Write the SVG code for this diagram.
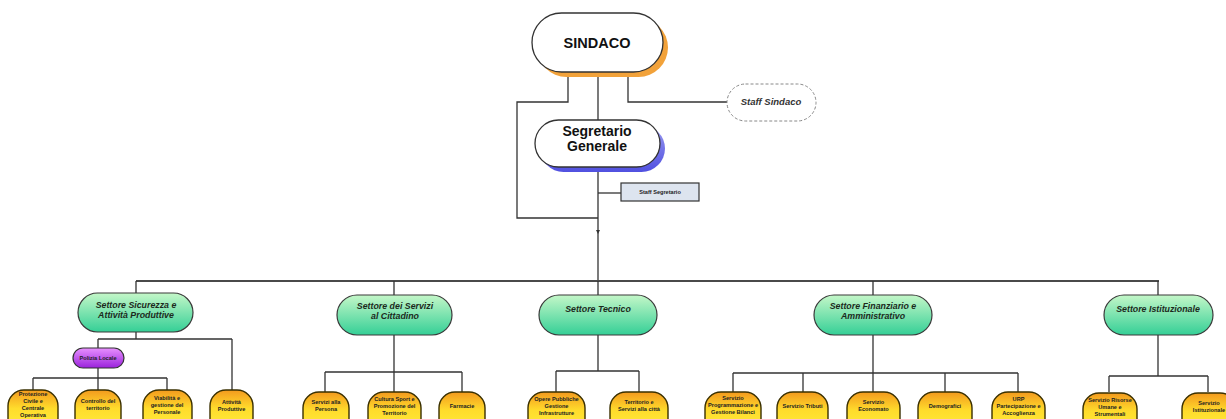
<svg xmlns="http://www.w3.org/2000/svg" width="1226" height="419" viewBox="0 0 1226 419">
<defs>
<linearGradient id="gGreen" x1="0" y1="0" x2="0" y2="1"><stop offset="0" stop-color="#c4f7c8"/><stop offset="1" stop-color="#34cf96"/></linearGradient>
<linearGradient id="gPurple" x1="0" y1="0" x2="0" y2="1"><stop offset="0" stop-color="#e890ff"/><stop offset="1" stop-color="#9a22dc"/></linearGradient>
<linearGradient id="gYellow" x1="0" y1="0" x2="0" y2="1"><stop offset="0" stop-color="#f39a1e"/><stop offset="0.42" stop-color="#ffdc2c"/><stop offset="1" stop-color="#fff040"/></linearGradient>
<linearGradient id="gBlue" x1="0" y1="0" x2="0" y2="1"><stop offset="0" stop-color="#9a9af0"/><stop offset="1" stop-color="#5050e0"/></linearGradient>
</defs>
<style>
.ln{fill:none;stroke:#333;stroke-width:1.3}
.bus{fill:none;stroke:#4a4a4a;stroke-width:2.2}
.sec{fill:url(#gGreen);stroke:#3a3a3a;stroke-width:1.2}
.yel{fill:url(#gYellow);stroke:#3a3000;stroke-width:1.4}
.st{font-family:"Liberation Sans",Arial,sans-serif;font-weight:bold;font-style:italic;font-size:8.8px;fill:#1c2a1c;text-anchor:middle}
.yt{font-family:"Liberation Sans",Arial,sans-serif;font-weight:bold;font-size:5.6px;fill:#222;text-anchor:middle}
.big{font-family:"Liberation Sans",Arial,sans-serif;font-weight:bold;fill:#111;text-anchor:middle}
</style>
<rect width="1226" height="419" fill="#ffffff"/>

<g id="connectors">
<path class="ln" d="M568 72 V102 H517 V218 H598"/>
<path class="ln" d="M598 72 V120"/>
<path class="ln" d="M628 72 V102 H727"/>
<path class="ln" d="M598 167 V281"/>
<path class="ln" d="M598 193 H621"/>
<polygon points="596,230 600,230 598,234" fill="#333"/>
<path class="bus" d="M136 281 H1159"/>
<path class="ln" d="M136 281 V293 M394 281 V295 M598 281 V295 M873 281 V295 M1158 281 V295"/>
<path class="ln" d="M136 332 V339 M98 339 H232 M98 339 V348 M232 339 V390 M98 368 V378 M33 378 H167 M33 378 V390 M98 378 V390 M167 378 V390"/>
<path class="ln" d="M394 335 V372 M325 372 H462 M325 372 V392 M394 372 V392 M462 372 V392"/>
<path class="ln" d="M598 335 V371 M556 371 H639 M556 371 V392 M639 371 V392"/>
<path class="ln" d="M873 335 V373 M733 373 H1018 M733 373 V392 M803 373 V392 M873 373 V392 M945 373 V392 M1018 373 V392"/>
<path class="ln" d="M1158 335 V376 M1109 376 H1208 M1109 376 V392 M1208 376 V392"/>
</g>

<g id="sindaco">
<rect x="537" y="18" width="131" height="59" rx="29.5" fill="#f2a23a"/>
<rect x="532" y="13" width="131" height="59" rx="29.5" fill="#fff" stroke="#333" stroke-width="1.3"/>
<text class="big" x="597" y="48" font-size="14.5">SINDACO</text>
</g>

<g id="staff-sindaco">
<rect x="727" y="84" width="89" height="37" rx="18.5" fill="#fff" stroke="#888" stroke-width="1" stroke-dasharray="3 2"/>
<text x="771" y="105" font-family="'Liberation Sans',Arial,sans-serif" font-weight="bold" font-style="italic" font-size="9.5" fill="#333" text-anchor="middle">Staff Sindaco</text>
</g>

<g id="segretario">
<rect x="540" y="125" width="125" height="47" rx="23.5" fill="url(#gBlue)"/>
<rect x="535" y="120" width="125" height="47" rx="23.5" fill="#fff" stroke="#333" stroke-width="1.3"/>
<text class="big" x="597" y="136" font-size="14">Segretario</text>
<text class="big" x="597" y="150.5" font-size="14">Generale</text>
</g>

<g id="staff-segretario">
<rect x="621" y="183" width="78" height="18" fill="#dde4ef" stroke="#333" stroke-width="1.2"/>
<text class="yt" x="660" y="194" font-size="5">Staff Segretario</text>
</g>

<g id="settore-sicurezza">
<rect class="sec" x="78" y="293" width="115" height="39" rx="19.5"/>
<text class="st" x="136" y="308">Settore Sicurezza e</text>
<text class="st" x="136" y="318">Attività Produttive</text>
</g>
<g id="settore-servizi">
<rect class="sec" x="337" y="295" width="115" height="40" rx="20"/>
<text class="st" x="395" y="308.5">Settore dei Servizi</text>
<text class="st" x="395" y="318.5">al Cittadino</text>
</g>
<g id="settore-tecnico">
<rect class="sec" x="539" y="295" width="118" height="40" rx="20"/>
<text class="st" x="598" y="312">Settore Tecnico</text>
</g>
<g id="settore-finanziario">
<rect class="sec" x="814" y="295" width="118" height="40" rx="20"/>
<text class="st" x="873" y="308.5">Settore Finanziario e</text>
<text class="st" x="873" y="318.5">Amministrativo</text>
</g>
<g id="settore-istituzionale">
<rect class="sec" x="1104" y="295" width="109" height="40" rx="20"/>
<text class="st" x="1158" y="312">Settore Istituzionale</text>
</g>

<g id="polizia-locale">
<rect x="73" y="348" width="51" height="20" rx="10" fill="url(#gPurple)" stroke="#333" stroke-width="1.2"/>
<text class="yt" x="98" y="360" font-size="5.4">Polizia Locale</text>
</g>

<g id="protezione-civile">
<rect class="yel" x="8" y="390" width="50" height="44" rx="16"/>
<text class="yt" x="33" y="396">Protezione</text>
<text class="yt" x="33" y="403">Civile e</text>
<text class="yt" x="33" y="410">Centrale</text>
<text class="yt" x="33" y="417">Operativa</text>
</g>
<g id="controllo-territorio">
<rect class="yel" x="75" y="390" width="46" height="44" rx="16"/>
<text class="yt" x="98" y="403">Controllo del</text>
<text class="yt" x="98" y="410">territorio</text>
</g>
<g id="viabilita">
<rect class="yel" x="143" y="390" width="49" height="44" rx="16"/>
<text class="yt" x="167" y="400">Viabilità e</text>
<text class="yt" x="167" y="407">gestione del</text>
<text class="yt" x="167" y="414">Personale</text>
</g>
<g id="attivita-produttive">
<rect class="yel" x="210" y="390" width="43" height="44" rx="16"/>
<text class="yt" x="231.5" y="404">Attività</text>
<text class="yt" x="231.5" y="411">Produttive</text>
</g>

<g id="servizi-persona">
<rect class="yel" x="303" y="392" width="46" height="44" rx="16"/>
<text class="yt" x="326" y="404">Servizi alla</text>
<text class="yt" x="326" y="411">Persona</text>
</g>
<g id="cultura-sport">
<rect class="yel" x="368" y="392" width="53" height="44" rx="16"/>
<text class="yt" x="394.5" y="401">Cultura Sport e</text>
<text class="yt" x="394.5" y="408">Promozione del</text>
<text class="yt" x="394.5" y="415">Territorio</text>
</g>
<g id="farmacie">
<rect class="yel" x="439" y="392" width="46" height="44" rx="16"/>
<text class="yt" x="462" y="408">Farmacie</text>
</g>

<g id="opere-pubbliche">
<rect class="yel" x="528" y="392" width="57" height="44" rx="16"/>
<text class="yt" x="556.5" y="401">Opere Pubbliche</text>
<text class="yt" x="556.5" y="408">Gestione</text>
<text class="yt" x="556.5" y="415">Infrastrutture</text>
</g>
<g id="territorio-servizi">
<rect class="yel" x="610" y="392" width="58" height="44" rx="16"/>
<text class="yt" x="639" y="404">Territorio e</text>
<text class="yt" x="639" y="411">Servizi alla città</text>
</g>

<g id="programmazione-bilanci">
<rect class="yel" x="705" y="392" width="56" height="44" rx="16"/>
<text class="yt" x="733" y="400">Servizio</text>
<text class="yt" x="733" y="407">Programmazione e</text>
<text class="yt" x="733" y="414">Gestione Bilanci</text>
</g>
<g id="servizio-tributi">
<rect class="yel" x="777" y="392" width="51" height="44" rx="16"/>
<text class="yt" x="802.5" y="408">Servizio Tributi</text>
</g>
<g id="servizio-economato">
<rect class="yel" x="847" y="392" width="53" height="44" rx="16"/>
<text class="yt" x="873.5" y="404">Servizio</text>
<text class="yt" x="873.5" y="411">Economato</text>
</g>
<g id="demografici">
<rect class="yel" x="918" y="392" width="54" height="44" rx="16"/>
<text class="yt" x="945" y="408">Demografici</text>
</g>
<g id="urp">
<rect class="yel" x="992" y="392" width="53" height="44" rx="16"/>
<text class="yt" x="1018.5" y="401">URP</text>
<text class="yt" x="1018.5" y="408">Partecipazione e</text>
<text class="yt" x="1018.5" y="415">Accoglienza</text>
</g>

<g id="risorse-umane">
<rect class="yel" x="1083" y="393" width="54" height="44" rx="16"/>
<text class="yt" x="1110" y="402">Servizio Risorse</text>
<text class="yt" x="1110" y="409">Umane e</text>
<text class="yt" x="1110" y="416">Strumentali</text>
</g>
<g id="servizio-istituzionale">
<rect class="yel" x="1182" y="393" width="54" height="44" rx="16"/>
<text class="yt" x="1209" y="405">Servizio</text>
<text class="yt" x="1209" y="412">Istituzionale</text>
</g>
</svg>
